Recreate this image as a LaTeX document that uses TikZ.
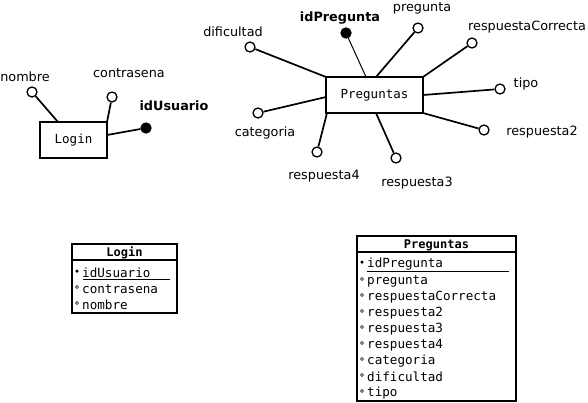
\documentclass[tikz,border=0pt]{standalone}
\usepackage{fontspec}
\setmainfont{DejaVu Sans}
\setmonofont{DejaVu Sans Mono}
\begin{document}
\begin{tikzpicture}[x=1pt,y=-1pt,
  ent/.style={draw,line width=1.7pt,minimum width=#1,minimum height=36pt,inner sep=0pt,font=\ttfamily\fontsize{12.5}{14}\selectfont},
  att/.style={draw,fill=white,circle,line width=1.3pt,minimum size=10pt,inner sep=0pt},
  key/.style={draw,fill=black,circle,line width=1.3pt,minimum size=10pt,inner sep=0pt},
  lbl/.style={inner sep=0pt,font=\fontsize{12.8}{14}\selectfont},
  klbl/.style={inner sep=0pt,font=\bfseries\fontsize{12.8}{14}\selectfont},
  conn/.style={line width=1.7pt},
  thinconn/.style={line width=1pt},
  row/.style={anchor=west,inner sep=0pt,font=\ttfamily\fontsize{12.6}{14}\selectfont},
  ttl/.style={inner sep=0pt,font=\ttfamily\bfseries\fontsize{12}{13}\selectfont},
  tbl/.style={draw,line width=1.7pt},
  okmark/.style={draw,circle,line width=0.6pt,inner sep=0pt,minimum size=3pt},
  kmark/.style={fill=black,circle,inner sep=0pt,minimum size=3.5pt}
]
\useasboundingbox[fill=white] (0,0) rectangle (588,402);

% ---- Login entity
\node[ent=67pt] (login) at (73.5,140) {Login};
\node[att] (nombre) at (32,92) {};
\node[att] (contr) at (112,97) {};
\node[key] (idu) at (146,128) {};
\node[lbl] (lnombre) at (25,77) {nombre};
\node[lbl] (lcontr) at (129,73) {contrasena};
\node[klbl] (lidu) at (174,106) {idUsuario};
\coordinate (lgA) at (58,122);
\coordinate (lgB) at (107,122);
\coordinate (lgC) at (107,135);
\draw[conn] (lgA) -- (nombre);
\draw[conn] (lgB) -- (contr);
\draw[conn] (lgC) -- (idu);

% ---- Preguntas entity
\node[ent=97pt] (preg) at (374.5,95) {Preguntas};
\node[key] (idp) at (346,33) {};
\node[att] (pp) at (418,28) {};
\node[att] (prc) at (472,43) {};
\node[att] (pt) at (500,89) {};
\node[att] (pr2) at (484,130) {};
\node[att] (pr3) at (396,158) {};
\node[att] (pr4) at (317,152) {};
\node[att] (pc) at (258,113) {};
\node[att] (pd) at (250,47) {};
\node[klbl] (lidp) at (340,18) {idPregunta};
\node[lbl] (lpp) at (422,8) {pregunta};
\node[lbl] (lprc) at (527,27) {respuestaCorrecta};
\node[lbl] (lpt) at (526,84) {tipo};
\node[lbl] (lpr2) at (542,132) {respuesta2};
\node[lbl] (lpr3) at (417,183) {respuesta3};
\node[lbl] (lpr4) at (324,176) {respuesta4};
\node[lbl] (lpc) at (265,133) {categoria};
\node[lbl] (lpd) at (233,32) {dificultad};
\coordinate (pA) at (366,77);
\coordinate (pB) at (376,77);
\coordinate (pC) at (423,77);
\coordinate (pD) at (423,95);
\coordinate (pE) at (423,113);
\coordinate (pF) at (376,113);
\coordinate (pG) at (327,113);
\coordinate (pH) at (326,97);
\coordinate (pI) at (326,77);
\draw[thinconn] (pA) -- (idp);
\draw[conn] (pB) -- (pp);
\draw[conn] (pC) -- (prc);
\draw[conn] (pD) -- (pt);
\draw[conn] (pE) -- (pr2);
\draw[conn] (pF) -- (pr3);
\draw[conn] (pG) -- (pr4);
\draw[conn] (pH) -- (pc);
\draw[conn] (pI) -- (pd);

% ---- Login table
\draw[tbl] (72,244) rectangle (177,313);
\draw[line width=1.3pt] (72,260) -- (177,260);
\node[ttl] (tlogin) at (124.5,253) {Login};
\node[kmark] (m1) at (77,271) {};
\node[okmark] (m2) at (77,287) {};
\node[okmark] (m3) at (77,303) {};
\node[row] (r1) at (82,273) {idUsuario};
\node[row] (r2) at (82,289) {contrasena};
\node[row] (r3) at (82,305) {nombre};
\draw[line width=0.8pt] (83,279.5) -- (170,279.5);

% ---- Preguntas table
\draw[tbl] (357,236) rectangle (516,401);
\draw[line width=1.3pt] (357,252) -- (516,252);
\node[ttl] (tpreg) at (436.5,245) {Preguntas};
\node[kmark] (n1) at (362,262) {};
\foreach \y [count=\i from 2] in {281,297,313,329,345,361,377,393} {
  \node[okmark] (n\i) at (362,\y-2) {};
}
\node[row] (s1) at (367,264) {idPregunta};
\node[row] (s2) at (367,281) {pregunta};
\node[row] (s3) at (367,297) {respuestaCorrecta};
\node[row] (s4) at (367,313) {respuesta2};
\node[row] (s5) at (367,329) {respuesta3};
\node[row] (s6) at (367,345) {respuesta4};
\node[row] (s7) at (367,361) {categoria};
\node[row] (s8) at (367,377) {dificultad};
\node[row] (s9) at (367,393) {tipo};
\draw[line width=0.8pt] (367,271.5) -- (509,271.5);
\end{tikzpicture}
\end{document}
